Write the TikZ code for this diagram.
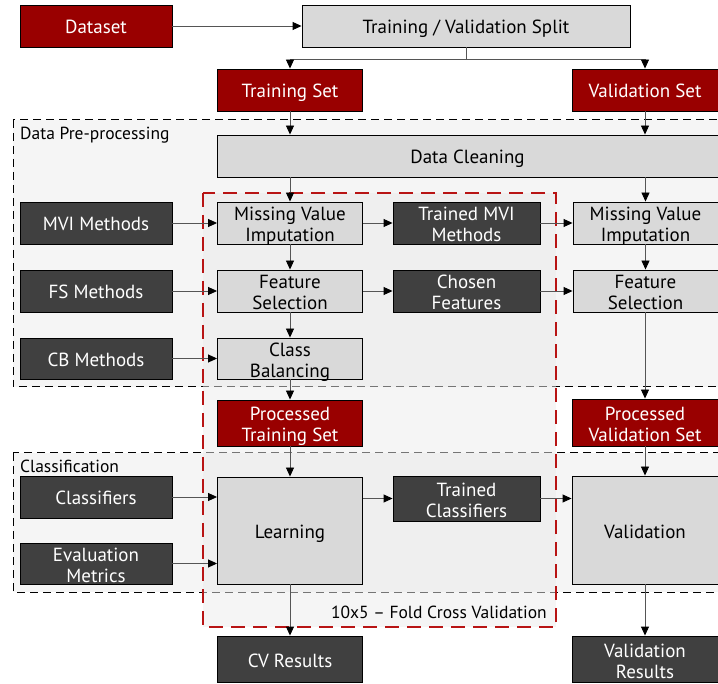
\documentclass[tikz,border=0pt]{standalone}
\usepackage{fontspec}
\setmainfont{PT Sans}
\usetikzlibrary{arrows.meta,calc}
\definecolor{dred}{HTML}{990000}
\definecolor{dgray}{HTML}{404040}
\definecolor{lgray}{HTML}{D9D9D9}
\definecolor{panel}{HTML}{F5F5F5}
\definecolor{cvred}{HTML}{B81414}
\definecolor{lcol}{HTML}{555555}
\newcommand\oneline[1]{\raisebox{-8pt}[0pt][0pt]{#1}}
\newcommand\twoline[2]{\raisebox{2pt}[0pt][0pt]{\begin{tabular}[t]{@{}c@{}}#1\\#2\end{tabular}}}
\pgfdeclarelayer{bg}
\pgfsetlayers{bg,main}
\tikzset{
  box/.style={draw=black, line width=0.9pt, inner sep=0pt,
    font=\fontsize{19}{21}\selectfont, minimum width=145pt, minimum height=42pt},
  redbox/.style={box, fill=dred, text=white},
  darkbox/.style={box, fill=dgray, text=white},
  graybox/.style={box, fill=lgray, text=black},
  arr/.style={draw=lcol, line width=0.9pt, -{Triangle[length=9pt,width=8pt,color=black]}},
  plain/.style={draw=lcol, line width=0.9pt},
  panelbox/.style={draw=black, dash pattern=on 8pt off 5pt, line width=1pt, fill=panel},
  cvbox/.style={draw=cvred, dash pattern=on 14pt off 8pt, line width=2pt, fill=black!8, fill opacity=0.5},
  lbl/.style={inner sep=0pt, font=\fontsize{17.5}{20}\selectfont}
}
\begin{document}
\begin{tikzpicture}[x=1pt,y=-1pt]
\useasboundingbox (0,0) rectangle (718,684);
% nodes
\node[redbox, minimum width=152pt] (dataset) at (96,26) {\oneline{Dataset}};
\node[graybox, minimum width=328pt] (split) at (466,26) {\oneline{Training / Validation Split}};
\node[redbox] (trainset) at (290,90) {\oneline{Training Set}};
\node[redbox, minimum width=146pt] (valset) at (645,90) {\oneline{Validation Set}};
\node[graybox, minimum width=501pt] (cleaning) at (467.5,156) {\oneline{Data Cleaning}};
\node[darkbox, minimum width=152pt] (mvim) at (96,223) {\oneline{MVI Methods}};
\node[graybox] (mvil) at (290,223) {\twoline{Missing Value}{Imputation}};
\node[darkbox, minimum width=147pt] (tmvi) at (466.5,223) {\twoline{Trained MVI}{Methods}};
\node[graybox] (mvir) at (645.5,223) {\twoline{Missing Value}{Imputation}};
\node[darkbox, minimum width=152pt] (fsm) at (96,291) {\oneline{FS Methods}};
\node[graybox] (fsl) at (290,291) {\twoline{Feature}{Selection}};
\node[darkbox, minimum width=147pt] (chosen) at (466.5,291) {\twoline{Chosen}{Features}};
\node[graybox] (fsr) at (645.5,291) {\twoline{Feature}{Selection}};
\node[darkbox, minimum width=152pt, minimum height=41pt] (cbm) at (96,358.5) {\oneline{CB Methods}};
\node[graybox, minimum height=41pt] (cb) at (290,358.5) {\twoline{Class}{Balancing}};
\node[redbox, minimum height=46pt] (ptrain) at (290,423) {\twoline{Processed}{Training Set}};
\node[redbox, minimum width=146pt, minimum height=47pt] (pval) at (645,422.5) {\twoline{Processed}{Validation Set}};
\node[darkbox, minimum width=152pt] (classifiers) at (96,497) {\oneline{Classifiers}};
\node[darkbox, minimum width=152pt, minimum height=41pt] (evalm) at (96,563.5) {\twoline{Evaluation}{Metrics}};
\node[graybox, minimum height=107pt] (learning) at (290,530.5) {\oneline{Learning}};
\node[darkbox, minimum width=147pt, minimum height=45pt] (tclass) at (466.5,498.5) {\twoline{Trained}{Classifiers}};
\node[graybox, minimum width=146pt, minimum height=108pt] (validation) at (645,530) {\oneline{Validation}};
\node[darkbox, minimum height=46pt] (cvres) at (290,659) {\oneline{CV Results}};
\node[darkbox, minimum width=146pt, minimum height=46pt] (valres) at (645,659) {\twoline{Validation}{Results}};
% panels
\begin{pgfonlayer}{bg}
\draw[panelbox] (13,120) rectangle (722,387);
\draw[panelbox] (13,453) rectangle (722,592);
\draw[cvbox] (203,193) rectangle (556,627);
\end{pgfonlayer}
\node[lbl, anchor=west] (lpre) at (20,135.5) {Data Pre-processing};
\node[lbl, anchor=west] (lcls) at (20,466.5) {Classification};
\node[lbl, anchor=east] (lcv) at (547,612) {10x5 – Fold Cross Validation};
% connectors
\draw[arr] (dataset.east) -- (split.west);
\draw[plain] (split.south) -- ++(0,12) coordinate (sj);
\draw[arr] (sj) -| (trainset.north);
\draw[arr] (sj) -| (valset.north);
\draw[arr] (trainset.south) -- (trainset.south |- cleaning.north);
\draw[arr] (valset.south) -- (valset.south |- cleaning.north);
\draw[arr] (mvil.north |- cleaning.south) -- (mvil.north);
\draw[arr] (mvir.north |- cleaning.south) -- (mvir.north);
\draw[arr] (mvim.east) -- (mvim.east -| mvil.west);
\draw[arr] (mvil.east) -- (tmvi.west);
\draw[arr] (tmvi.east) -- (mvir.west);
\draw[arr] (mvil.south) -- (fsl.north);
\draw[arr] (mvir.south) -- (fsr.north);
\draw[arr] (fsm.east) -- (fsl.west);
\draw[arr] (fsl.east) -- (chosen.west);
\draw[arr] (chosen.east) -- (fsr.west);
\draw[arr] (fsl.south) -- (cb.north);
\draw[arr] (cbm.east) -- (cb.west);
\draw[arr] (cb.south) -- (ptrain.north);
\draw[arr] (fsr.south -| pval.north) -- (pval.north);
\draw[arr] (ptrain.south) -- (learning.north);
\draw[arr] (pval.south) -- (validation.north);
\draw[arr] (classifiers.east) -- (classifiers.east -| learning.west);
\draw[arr] (evalm.east) -- (evalm.east -| learning.west);
\draw[arr] (tclass.west -| learning.east) -- (tclass.west);
\draw[arr] (tclass.east) -- (tclass.east -| validation.west);
\draw[arr] (learning.south) -- (cvres.north);
\draw[arr] (validation.south) -- (valres.north);
\end{tikzpicture}
\end{document}
